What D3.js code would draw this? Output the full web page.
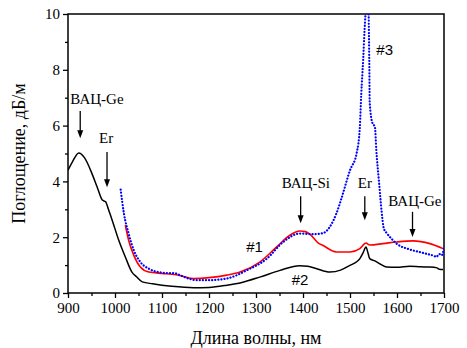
<!DOCTYPE html>
<html>
<head>
<meta charset="utf-8">
<script src="https://cdn.jsdelivr.net/npm/d3@7"></script>
<style>
  html, body { margin: 0; padding: 0; background: #fff; }
  svg { display: block; }
  .serif { font-family: "Liberation Serif", "Times New Roman", serif; }
  .sans { font-family: "Liberation Sans", Arial, sans-serif; }
</style>
</head>
<body>
<svg id="chart" width="467" height="348"></svg>
<script>
// Absorption spectra of three fibre samples, dB/m vs wavelength, nm

// Sample #2 (black solid)
const sample2Wl  = [900, 910, 923, 935, 951, 962, 973, 980, 986, 994, 1008, 1022, 1036, 1046, 1058, 1080, 1100, 1121, 1167, 1200, 1238, 1270, 1308, 1351, 1393, 1410, 1429, 1457, 1480, 1500, 1515, 1521, 1528, 1534, 1538, 1542, 1553, 1565, 1578, 1600, 1627, 1650, 1670, 1685, 1690, 1698];
const sample2Abs = [4.40, 4.72, 5.02, 4.85, 4.28, 3.80, 3.33, 3.27, 3.00, 2.61, 1.89, 1.29, 0.75, 0.58, 0.40, 0.33, 0.28, 0.24, 0.19, 0.20, 0.28, 0.38, 0.57, 0.81, 0.98, 0.96, 0.87, 0.75, 0.82, 0.99, 1.13, 1.23, 1.45, 1.65, 1.45, 1.23, 1.15, 1.03, 0.93, 0.92, 0.96, 0.94, 0.93, 0.90, 0.85, 0.84];

// Sample #1 (red solid)
const sample1Wl  = [1022, 1029, 1040, 1054, 1072, 1100, 1121, 1140, 1167, 1200, 1238, 1266, 1308, 1344, 1372, 1393, 1405, 1415, 1432, 1443, 1471, 1500, 1521, 1534, 1542, 1570, 1599, 1634, 1670, 1698];
const sample1Abs = [2.43, 1.89, 1.35, 0.93, 0.75, 0.70, 0.67, 0.62, 0.52, 0.55, 0.64, 0.75, 1.11, 1.65, 2.07, 2.22, 2.20, 2.10, 1.80, 1.70, 1.47, 1.47, 1.59, 1.79, 1.72, 1.77, 1.83, 1.87, 1.77, 1.59];

// Sample #3 (blue dotted)
const sample3Wl  = [1012, 1019, 1029, 1040, 1054, 1072, 1100, 1130, 1138, 1174, 1200, 1238, 1280, 1323, 1358, 1393, 1422, 1443, 1457, 1471, 1482, 1500, 1514, 1521, 1524, 1528, 1531, 1535, 1539, 1541, 1542, 1548, 1553, 1556, 1562, 1567, 1572, 1578, 1588, 1599, 1627, 1655, 1675, 1684, 1690, 1695, 1700];
const sample3Abs = [3.71, 2.85, 2.13, 1.53, 1.11, 0.87, 0.73, 0.70, 0.64, 0.46, 0.46, 0.52, 0.81, 1.23, 1.83, 2.13, 2.11, 2.15, 2.37, 2.85, 3.40, 4.40, 5.00, 5.96, 7.15, 8.35, 9.43, 10.3, 10.3, 8.35, 6.80, 6.08, 5.96, 5.12, 3.93, 2.97, 2.31, 2.15, 1.95, 1.77, 1.56, 1.44, 1.35, 1.30, 1.40, 1.35, 1.60];

// Axis ticks
const xTicks = [900, 1000, 1100, 1200, 1300, 1400, 1500, 1600, 1700];
const xMinorTicks = [950, 1050, 1150, 1250, 1350, 1450, 1550, 1650];
const yTicks = [0, 2, 4, 6, 8, 10];
const yMinorTicks = [1, 3, 5, 7, 9];

// Band annotations: label, label anchor (nm, dB/m), arrow from/to (dB/m) at arrow wavelength
const bandLabels = ["ВАЦ-Ge", "Er", "ВАЦ-Si", "Er", "ВАЦ-Ge"];
const bandLabelWl = [905, 981, 1406, 1531.5, 1638];
const bandLabelAbs = [6.77, 5.37, 3.76, 3.76, 3.11];
const bandLabelAnchor = ["start", "middle", "middle", "middle", "middle"];
const arrowWl = [926, 983, 1395, 1531.5, 1633];
const arrowFrom = [6.52, 5.05, 3.47, 3.47, 2.91];
const arrowTo = [5.55, 3.79, 2.50, 2.61, 2.01];

// Curve labels
const curveNames = ["#1", "#2", "#3"];
const curveNameWl = [1279, 1376, 1556];
const curveNameAbs = [1.47, 0.28, 8.53];

const svg = d3.select("#chart");
const margin = { left: 68, top: 14, right: 23, bottom: 55 };
const W = 467 - margin.left - margin.right;
const H = 348 - margin.top - margin.bottom;

const x = d3.scaleLinear().domain([900, 1700]).range([0, W]);
const y = d3.scaleLinear().domain([0, 10]).range([H, 0]);

const g = svg.append("g").attr("transform", `translate(${margin.left},${margin.top})`);

svg.append("defs").append("clipPath").attr("id", "plotClip")
  .append("rect").attr("x", 0).attr("y", 0).attr("width", W).attr("height", H);

// Axes
g.append("g").attr("transform", `translate(0,${H})`)
  .call(d3.axisBottom(x).tickValues(xTicks).tickSize(5).tickPadding(4).tickFormat(d3.format("d")));
g.append("g").attr("transform", `translate(0,${H})`)
  .call(d3.axisBottom(x).tickValues(xMinorTicks).tickSize(3).tickFormat(""));
g.append("g")
  .call(d3.axisLeft(y).tickValues(yTicks).tickSize(5).tickPadding(3).tickFormat(d3.format("d")));
g.append("g")
  .call(d3.axisLeft(y).tickValues(yMinorTicks).tickSize(3).tickFormat(""));

g.selectAll(".domain").remove();
g.selectAll(".tick line").attr("stroke", "#000").attr("stroke-width", 1.3);
g.selectAll(".tick text")
  .attr("class", "serif")
  .attr("font-family", null)
  .style("font-family", "'Liberation Serif', 'Times New Roman', serif")
  .style("font-size", "15px")
  .attr("fill", "#000");

// Frame
g.append("rect").attr("x", 0).attr("y", 0).attr("width", W).attr("height", H)
  .attr("fill", "none").attr("stroke", "#000").attr("stroke-width", 1.5);

// Curves
const line = d3.line().x(d => x(d[0])).y(d => y(d[1])).curve(d3.curveMonotoneX);
const plot = g.append("g").attr("clip-path", "url(#plotClip)");

plot.append("path").datum(d3.zip(sample2Wl, sample2Abs)).attr("d", line)
  .attr("fill", "none").attr("stroke", "#000").attr("stroke-width", 1.5);
plot.append("path").datum(d3.zip(sample1Wl, sample1Abs)).attr("d", line)
  .attr("fill", "none").attr("stroke", "#ff0000").attr("stroke-width", 1.6);
plot.append("path").datum(d3.zip(sample3Wl, sample3Abs)).attr("d", line)
  .attr("fill", "none").attr("stroke", "#0000ff").attr("stroke-width", 2.2)
  .attr("stroke-linecap", "round").attr("stroke-dasharray", "0.1 3");

// Band labels and arrows
bandLabels.forEach((t, i) => {
  g.append("text").attr("x", x(bandLabelWl[i])).attr("y", y(bandLabelAbs[i]))
    .attr("class", "serif").attr("text-anchor", bandLabelAnchor[i]).style("font-size", "15px")
    .attr("fill", "#000").text(t);
  const ax = x(arrowWl[i]), y0 = y(arrowFrom[i]), y1 = y(arrowTo[i]);
  g.append("line").attr("x1", ax).attr("x2", ax).attr("y1", y0).attr("y2", y1 - 6)
    .attr("stroke", "#000").attr("stroke-width", 1.3);
  g.append("path").attr("d", `M${ax - 3},${y1 - 8} L${ax + 3},${y1 - 8} L${ax},${y1} Z`).attr("fill", "#000");
});

// Curve labels
curveNames.forEach((t, i) => {
  g.append("text").attr("x", x(curveNameWl[i])).attr("y", y(curveNameAbs[i]))
    .attr("class", "sans").style("font-size", "15px").attr("fill", "#000").text(t);
});

// Axis titles
svg.append("text").attr("x", margin.left + W / 2).attr("y", 344)
  .attr("class", "serif").attr("text-anchor", "middle").style("font-size", "18px")
  .attr("fill", "#000").text("Длина волны, нм");
svg.append("text").attr("transform", `translate(25,${margin.top + H / 2}) rotate(-90)`)
  .attr("class", "serif").attr("text-anchor", "middle").style("font-size", "18px")
  .attr("fill", "#000").text("Поглощение, дБ/м");
</script>
</body>
</html>
